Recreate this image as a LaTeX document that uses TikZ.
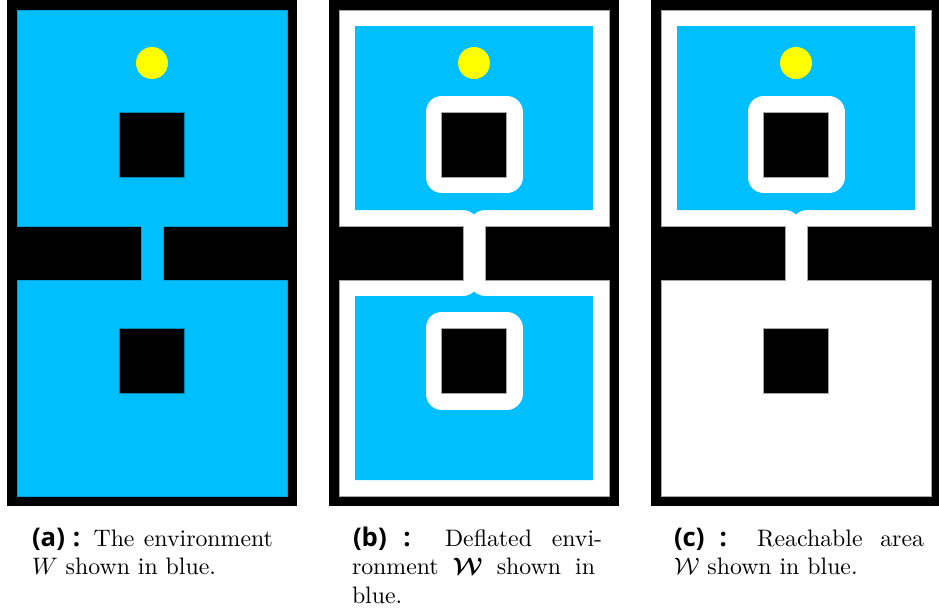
\documentclass[tikz,border=0pt]{standalone}
\usepackage{fontspec}
\usepackage{amsmath}
\usepackage{bm}
\newfontfamily\labfont{Open Sans}
\definecolor{freeblue}{RGB}{0,191,255}
\definecolor{robotyellow}{RGB}{255,255,0}
\tikzset{
  wall/.style={fill=black},
  obstacle/.style={fill=black, draw=gray!70, line width=0.4pt},
  obstaclea/.style={fill=black, draw=freeblue!70!black, line width=0.3pt},
  inflated/.style={draw=white, line width=13.44pt, line join=round},
  robot/.style={fill=robotyellow},
  capt/.style={inner sep=0pt, outer sep=0pt, anchor=base west, font=\fontsize{10}{12}\selectfont},
}
\newcommand\labeltext[1]{{\labfont\bfseries\fontsize{10.8}{12}\selectfont #1}}
\newcommand\freespacepath[1]{%
  \path[#1] (17,10) -- (287,10) -- (287,226) -- (163,226) -- (163,280) -- (287,280)
    -- (287,496) -- (17,496) -- (17,280) -- (141,280) -- (141,226) -- (17,226) -- cycle;}
\newcommand\toproomdeflated{%
  \fill[freeblue] (33,26) -- (271,26) -- (271,210) -- (163,210)
    arc[start angle=-90, end angle=-133.4, radius=16]
    arc[start angle=-46.6, end angle=-90, radius=16]
    -- (33,210) -- cycle;}
\newcommand\bottomroomdeflated{%
  \fill[freeblue] (33,480) -- (33,296) -- (141,296)
    arc[start angle=90, end angle=46.6, radius=16]
    arc[start angle=133.4, end angle=90, radius=16]
    -- (271,296) -- (271,480) -- cycle;}
\begin{document}
\begin{tikzpicture}[x=0.42pt,y=-0.42pt]
\useasboundingbox (0,0) rectangle (939,612);
\fill[white] (0,0) rectangle (939,612);

% ---------- panel (a)
\begin{scope}
  \fill[wall] (7,0) rectangle (297,506);
  \freespacepath{fill=freeblue, draw=freeblue!85!black, line width=0.3pt}
  \filldraw[obstaclea] (119.5,112) rectangle (184.5,177);
  \filldraw[obstaclea] (119.5,328) rectangle (184.5,393.5);
  \fill[robot] (152,63) circle[radius=16];
\end{scope}

% ---------- panel (b)
\begin{scope}[shift={(322,0)}]
  \fill[wall] (7,0) rectangle (297,506);
  \freespacepath{fill=white, draw=gray!70, line width=0.4pt}
  \toproomdeflated
  \bottomroomdeflated
  \draw[inflated] (119.5,112) rectangle (184.5,177);
  \draw[inflated] (119.5,328) rectangle (184.5,393.5);
  \filldraw[obstacle] (119.5,112) rectangle (184.5,177);
  \filldraw[obstacle] (119.5,328) rectangle (184.5,393.5);
  \fill[robot] (152,63) circle[radius=16];
\end{scope}

% ---------- panel (c)
\begin{scope}[shift={(644,0)}]
  \fill[wall] (7,0) rectangle (297,506);
  \freespacepath{fill=white, draw=gray!70, line width=0.4pt}
  \toproomdeflated
  \draw[inflated] (119.5,112) rectangle (184.5,177);
  \filldraw[obstacle] (119.5,112) rectangle (184.5,177);
  \filldraw[obstacle] (119.5,328) rectangle (184.5,393.5);
  \fill[robot] (152,63) circle[radius=16];
\end{scope}

% ---------- captions
\node[capt] (capa1) at (32,546) {\makebox[101.2pt][s]{\labeltext{(a) :} The environment}};
\node[capt] (capa2) at (32,574.5) {$W$ shown in blue.};
\node[capt] (capb1) at (353,546) {\makebox[104.6pt][s]{\labeltext{(b) :} Deflated envi-}};
\node[capt] (capb2) at (352,574.5) {\makebox[102.1pt][s]{ronment $\bm{\mathcal{W}}$ shown in}};
\node[capt] (capb3) at (352,603) {blue.};
\node[capt] (capc1) at (674,546) {\makebox[105pt][s]{\labeltext{(c) :} Reachable area}};
\node[capt] (capc2) at (674,574.5) {$\mathcal{W}$ shown in blue.};
\end{tikzpicture}
\end{document}
